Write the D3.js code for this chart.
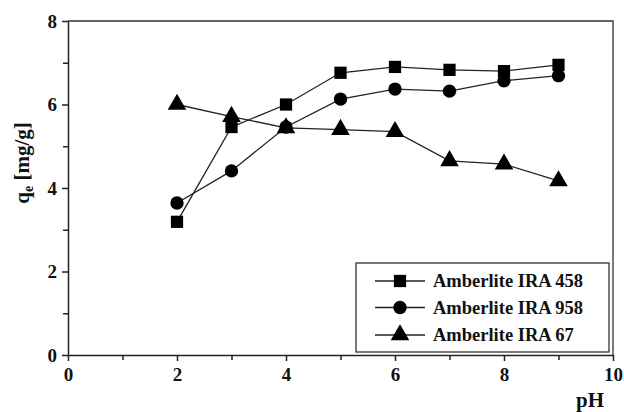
<!DOCTYPE html>
<html>
<head>
<meta charset="utf-8">
<script src="https://cdn.jsdelivr.net/npm/d3@7"></script>
<style>
  body { margin: 0; background: #fff; }
  svg text { font-family: "Liberation Serif", "Times New Roman", serif !important; font-weight: bold; fill: #111; }
</style>
</head>
<body>
<svg id="plot"></svg>
<script>
var pH = [2, 3, 4, 5, 6, 7, 8, 9];
var ira458 = [3.19, 5.46, 6.0, 6.76, 6.90, 6.83, 6.80, 6.95];
var ira958 = [3.64, 4.41, 5.46, 6.13, 6.37, 6.32, 6.57, 6.69];
var ira67 = [6.0, 5.71, 5.44, 5.40, 5.35, 4.65, 4.57, 4.17];
var seriesNames = ["Amberlite IRA 458", "Amberlite IRA 958", "Amberlite IRA 67"];
var symbols = [d3.symbolSquare, d3.symbolCircle, d3.symbolTriangle];
var xTicks = [0, 2, 4, 6, 8, 10];
var yTicks = [0, 2, 4, 6, 8];

var width = 624, height = 412;
var margin = {top: 21, right: 11, bottom: 57, left: 68};

var svg = d3.select("#plot")
    .attr("width", width)
    .attr("height", height);

var xScale = d3.scaleLinear()
    .domain([0, 10])
    .range([margin.left, width - margin.right]);
var yScale = d3.scaleLinear()
    .domain([0, 8])
    .range([height - margin.bottom, margin.top]);

var series = [ira458, ira958, ira67];

// frame (top + right)
svg.append("path")
    .attr("d", "M" + xScale(0) + "," + yScale(8) + "H" + xScale(10) + "V" + yScale(0))
    .attr("fill", "none")
    .attr("stroke", "#333")
    .attr("stroke-width", 1.3);

// minor ticks
var xAxisMinor = d3.axisBottom(xScale).tickValues(d3.range(1, 10, 2)).tickSize(5).tickFormat("");
var yAxisMinor = d3.axisLeft(yScale).tickValues(d3.range(1, 8, 2)).tickSize(5).tickFormat("");
svg.append("g")
    .attr("transform", "translate(0," + yScale(0) + ")")
    .call(xAxisMinor)
    .call(g => g.select(".domain").remove());
svg.append("g")
    .attr("transform", "translate(" + xScale(0) + ",0)")
    .call(yAxisMinor)
    .call(g => g.select(".domain").remove());

var xAxis = d3.axisBottom(xScale).tickValues(xTicks).tickSize(6).tickSizeOuter(0).tickPadding(7);
var yAxis = d3.axisLeft(yScale).tickValues(yTicks).tickSize(6).tickSizeOuter(0).tickPadding(5);

svg.append("g")
    .attr("transform", "translate(0," + yScale(0) + ")")
    .call(xAxis);
svg.append("g")
    .attr("transform", "translate(" + xScale(0) + ",0)")
    .call(yAxis);

svg.selectAll(".tick line, .domain")
    .attr("stroke", "#222")
    .attr("stroke-width", 1.5);
svg.selectAll(".tick text")
    .style("font-size", "19px")
    .attr("fill", "#111");

// axis labels
svg.append("text")
    .attr("x", 590)
    .attr("y", 407)
    .attr("text-anchor", "middle")
    .style("font-size", "21px")
    .text("pH");

var yl = svg.append("text")
    .attr("transform", "translate(29,163) rotate(-90)")
    .attr("text-anchor", "middle")
    .style("font-size", "21px");
yl.append("tspan").text("q");
yl.append("tspan").style("font-size", "14px").attr("dy", 4).text("e");
yl.append("tspan").attr("dy", -4).text(" [mg/g]");

var line = d3.line()
    .x((d, i) => xScale(pH[i]))
    .y(d => yScale(d));

series.forEach(function(vals, k) {
  svg.append("path")
      .attr("d", line(vals))
      .attr("fill", "none")
      .attr("stroke", "#222")
      .attr("stroke-width", 1.3);
});

var sizes = [150, 140, 150];
series.forEach(function(vals, k) {
  svg.append("g").selectAll("path")
    .data(vals)
    .join("path")
      .attr("transform", (d, i) => "translate(" + xScale(pH[i]) + "," + yScale(d) + ")")
      .attr("d", d3.symbol().type(symbols[k]).size(sizes[k]))
      .attr("fill", "#000");
});

// legend
var legend = svg.append("g");
legend.append("rect")
    .attr("x", 356)
    .attr("y", 263)
    .attr("width", 253)
    .attr("height", 89)
    .attr("fill", "#fff")
    .attr("stroke", "#333")
    .attr("stroke-width", 1.3);

var legendY = [281, 307.5, 335];
seriesNames.forEach(function(name, k) {
  var ly = legendY[k];
  legend.append("line")
      .attr("x1", 375).attr("x2", 425)
      .attr("y1", ly).attr("y2", ly)
      .attr("stroke", "#222")
      .attr("stroke-width", 1.3);
  legend.append("path")
      .attr("transform", "translate(400," + ly + ")")
      .attr("d", d3.symbol().type(symbols[k]).size(sizes[k]))
      .attr("fill", "#000");
  legend.append("text")
      .attr("x", 433)
      .attr("y", ly + 6)
      .style("font-size", "18.5px")
      .text(name);
});
</script>
</body>
</html>
